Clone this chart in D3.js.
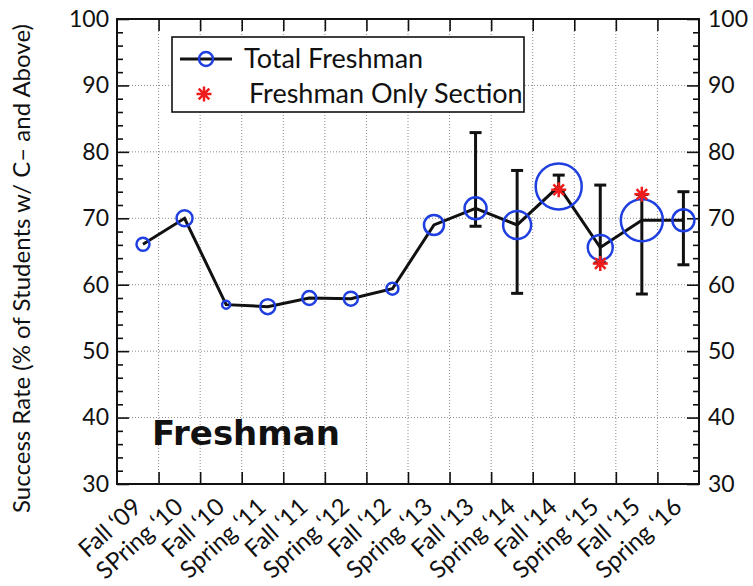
<!DOCTYPE html>
<html>
<head>
<meta charset="utf-8">
<script src="https://cdn.jsdelivr.net/npm/d3@7"></script>
<style>
  body { margin: 0; background: #fff; }
  text { font-family: Lato, "Open Sans", sans-serif; fill: #111; }
</style>
</head>
<body>
<div id="chart"></div>
<script>
const semesters = ["Fall \u201809", "SPring \u201810", "Fall \u201810", "Spring \u201811", "Fall \u201811", "Spring \u201812", "Fall \u201812",
                   "Spring \u201813", "Fall \u201813", "Spring \u201814", "Fall \u201814", "Spring \u201815", "Fall \u201815", "Spring \u201816"];
const totalRate = [66.1, 70.0, 57.0, 56.7, 58.0, 57.9, 59.4, 69.0, 71.5, 69.0, 74.8, 65.6, 69.7, 69.7];
// marker size of the open circles (grows with the number of students)
const markerSize = [6.5, 8, 4, 7.5, 7, 7, 6, 10, 11, 14, 23, 12.5, 21, 11];
const errLow  = [null, null, null, null, null, null, null, null, 68.8, 58.7, 74.2, 63.3, 58.6, 63.0];
const errHigh = [null, null, null, null, null, null, null, null, 82.9, 77.2, 76.5, 75.0, 73.6, 74.0];
const onlySemesters = ["Fall \u201814", "Spring \u201815", "Fall \u201815"];
const onlyRate = [74.3, 63.2, 73.6];
const yTicks = [30, 40, 50, 60, 70, 80, 90, 100];

const width = 753;
const height = 586;
const margin = {top: 19, right: 54, bottom: 102, left: 117};
const iw = width - margin.left - margin.right;
const ih = height - margin.top - margin.bottom;

const svg = d3.select("#chart")
              .append("svg")
              .attr("width", width)
              .attr("height", height)

const g = svg.append("g")
             .attr("transform", `translate(${margin.left},${margin.top})`)

const x = d3.scalePoint()
            .domain(semesters)
            .range([0, iw])
            .padding(0.5)
            .align(0.625)

// boundaries between semesters, used for grid and ticks
const xb = d3.scaleLinear()
             .domain([0, semesters.length])
             .range([0, iw])
const xbTicks = d3.range(1, semesters.length)

const y = d3.scaleLinear()
            .domain([30, 100])
            .range([ih, 0])

// grid
g.append("g")
  .selectAll("line")
  .data(yTicks.filter(d => d > 30 && d < 100))
  .enter()
  .append("line")
  .attr("x1", 0).attr("x2", iw)
  .attr("y1", d => y(d)).attr("y2", d => y(d))
  .attr("stroke", "#8a8a8a")
  .attr("stroke-dasharray", "1,2")

g.append("g")
  .selectAll("line")
  .data(xbTicks)
  .enter()
  .append("line")
  .attr("x1", d => xb(d)).attr("x2", d => xb(d))
  .attr("y1", 0).attr("y2", ih)
  .attr("stroke", "#8a8a8a")
  .attr("stroke-dasharray", "1,2")

// axes
const minor = d3.range(30, 100.1, 2).filter(d => d % 10 !== 0)

function styleAxis(sel) {
  sel.select(".domain").remove()
  sel.selectAll(".tick line").attr("stroke", "#111").attr("stroke-width", 1.6)
  sel.selectAll(".tick text").attr("font-size", 23).attr("font-family", "Lato, sans-serif").attr("fill", "#111")
}

g.append("g")
  .call(d3.axisLeft(y).tickValues(yTicks).tickSize(-12).tickPadding(8))
  .call(styleAxis)
g.append("g")
  .call(d3.axisLeft(y).tickValues(minor).tickSize(-6).tickFormat(""))
  .call(styleAxis)
g.append("g")
  .attr("transform", `translate(${iw},0)`)
  .call(d3.axisRight(y).tickValues(yTicks).tickSize(-12).tickPadding(9))
  .call(styleAxis)
g.append("g")
  .attr("transform", `translate(${iw},0)`)
  .call(d3.axisRight(y).tickValues(minor).tickSize(-6).tickFormat(""))
  .call(styleAxis)
g.append("g")
  .attr("transform", `translate(0,${ih})`)
  .call(d3.axisBottom(xb).tickValues(xbTicks).tickSize(-12).tickFormat(""))
  .call(styleAxis)
g.append("g")
  .call(d3.axisTop(xb).tickValues(xbTicks).tickSize(-12).tickFormat(""))
  .call(styleAxis)

g.append("rect")
  .attr("width", iw)
  .attr("height", ih)
  .attr("fill", "none")
  .attr("stroke", "#111")
  .attr("stroke-width", 2)

// x labels
g.append("g")
  .selectAll("text")
  .data(semesters)
  .enter()
  .append("text")
  .attr("transform", d => `translate(${x(d)},${ih + 25}) rotate(-42)`)
  .attr("text-anchor", "end")
  .attr("font-size", 24)
  .text(d => d)

// y label
svg.append("text")
   .attr("transform", `translate(30,${margin.top + ih / 2 + 17}) rotate(-90)`)
   .attr("text-anchor", "middle")
   .attr("font-size", 24)
   .text("Success Rate (% of Students w/ C\u2013 and Above)")

// panel label
g.append("text")
  .attr("x", 35)
  .attr("y", y(35.8))
  .attr("font-size", 34)
  .attr("font-weight", "bold")
  .style("font-family", "'DejaVu Sans', sans-serif")
  .text("Freshman")

// error bars
const bars = semesters.map((d, i) => ({sem: d, lo: errLow[i], hi: errHigh[i]})).filter(d => d.lo !== null)
const capW = 6
const eb = g.append("g").attr("stroke", "#111").attr("stroke-width", 3)
eb.selectAll(".v").data(bars).enter().append("line")
  .attr("x1", d => x(d.sem)).attr("x2", d => x(d.sem))
  .attr("y1", d => y(d.lo)).attr("y2", d => y(d.hi))
eb.selectAll(".lo").data(bars).enter().append("line")
  .attr("x1", d => x(d.sem) - capW).attr("x2", d => x(d.sem) + capW)
  .attr("y1", d => y(d.lo)).attr("y2", d => y(d.lo))
eb.selectAll(".hi").data(bars).enter().append("line")
  .attr("x1", d => x(d.sem) - capW).attr("x2", d => x(d.sem) + capW)
  .attr("y1", d => y(d.hi)).attr("y2", d => y(d.hi))

// line
const line = d3.line()
               .x((d, i) => x(semesters[i]))
               .y(d => y(d))
g.append("path")
  .datum(totalRate)
  .attr("d", line)
  .attr("fill", "none")
  .attr("stroke", "#111")
  .attr("stroke-width", 3)

const blue = "#1f3fe0"
const red = "#ee1c1c"

g.append("g")
  .selectAll("circle")
  .data(totalRate)
  .enter()
  .append("circle")
  .attr("cx", (d, i) => x(semesters[i]))
  .attr("cy", d => y(d))
  .attr("r", (d, i) => markerSize[i])
  .attr("fill", "none")
  .attr("stroke", blue)
  .attr("stroke-width", 2.5)

function starPath(r) {
  const a = r * Math.SQRT1_2
  return `M${-r},0H${r}M0,${-r}V${r}M${-a},${-a}L${a},${a}M${-a},${a}L${a},${-a}`
}

g.append("g")
  .selectAll("path")
  .data(onlyRate)
  .enter()
  .append("path")
  .attr("transform", (d, i) => `translate(${x(onlySemesters[i])},${y(d)})`)
  .attr("d", starPath(7.5))
  .attr("stroke", red)
  .attr("stroke-width", 2.5)

// legend
const legend = svg.append("g")
legend.append("rect")
      .attr("x", 172).attr("y", 37)
      .attr("width", 352).attr("height", 75)
      .attr("fill", "#fff")
      .attr("stroke", "#111")
      .attr("stroke-width", 1.6)
legend.append("line")
      .attr("x1", 180).attr("x2", 232)
      .attr("y1", 59).attr("y2", 59)
      .attr("stroke", "#111").attr("stroke-width", 3)
legend.append("circle")
      .attr("cx", 206).attr("cy", 59).attr("r", 7)
      .attr("fill", "none").attr("stroke", blue).attr("stroke-width", 2.5)
legend.append("path")
      .attr("transform", "translate(204,94)")
      .attr("d", starPath(7.5))
      .attr("stroke", red).attr("stroke-width", 2.5)
legend.append("text")
      .attr("x", 244).attr("y", 68)
      .attr("font-size", 27)
      .text("Total Freshman")
legend.append("text")
      .attr("x", 249).attr("y", 103)
      .attr("font-size", 27)
      .text("Freshman Only Section")
</script>
</body>
</html>
